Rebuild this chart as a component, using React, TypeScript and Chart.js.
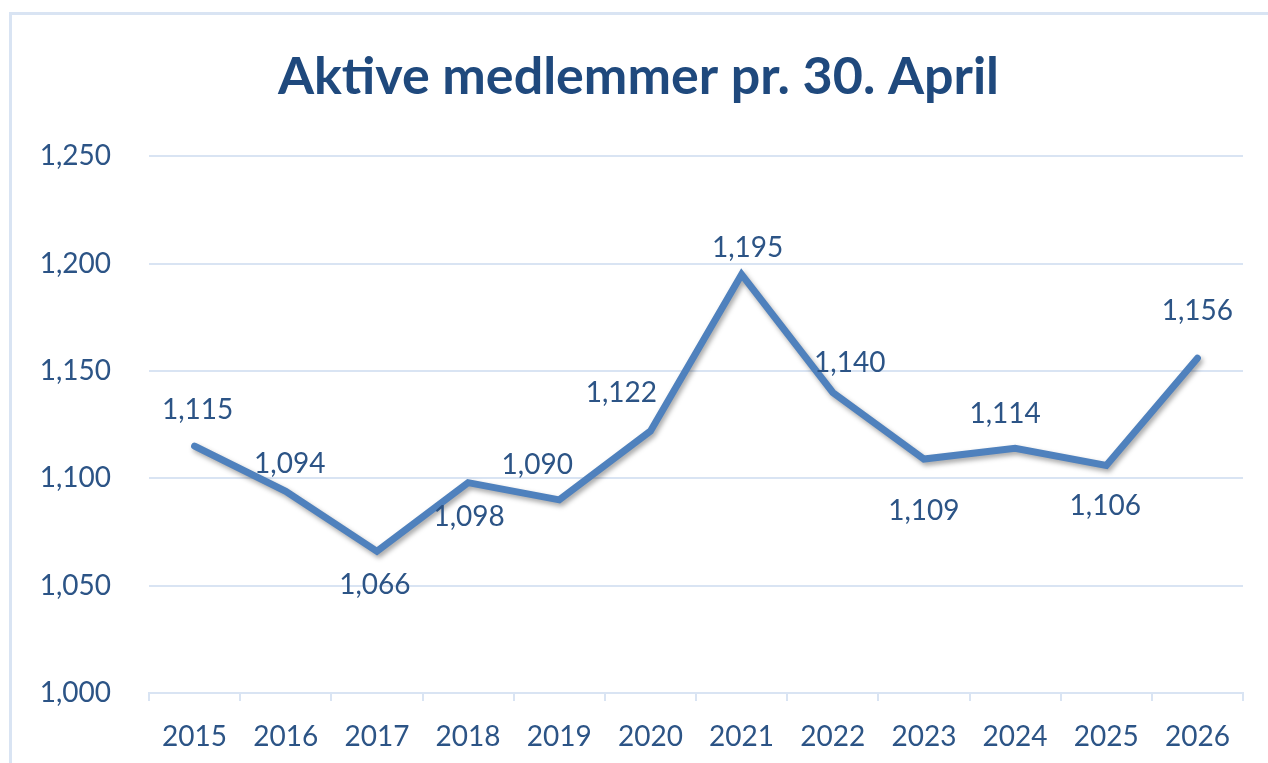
import React, { useEffect, useRef } from "react";
import { Chart, registerables } from "chart.js";

Chart.register(...registerables);

const years = ["2015", "2016", "2017", "2018", "2019", "2020", "2021", "2022", "2023", "2024", "2025", "2026"];
const members = [1115, 1094, 1066, 1098, 1090, 1122, 1195, 1140, 1109, 1114, 1106, 1156];
const yTicks = [1000, 1050, 1100, 1150, 1200, 1250];
const titleText = "Aktive medlemmer pr. 30. April";

// label offsets (px) relative to each point
const labelDx = [3, 4, -2, 1, -22, -29, 6, 17, 0, -10, -1, 0];
const labelDy = [-36, -27, 34, 34, -35, -38, -26, -30, 52, -34, 40, -47];

const FONT = "Lato, 'Open Sans', sans-serif";
const TEXT = "#2c5486";
const GRID = "#d9e4f3";

const fmt = (v: number) => v.toLocaleString("en-US");

const labelPlugin = {
  id: "pointLabels",
  afterDatasetsDraw(chart: any) {
    const ctx = chart.ctx;
    const meta = chart.getDatasetMeta(0);
    ctx.save();
    ctx.font = `28px ${FONT}`;
    ctx.fillStyle = TEXT;
    ctx.textAlign = "center";
    ctx.textBaseline = "middle";
    meta.data.forEach((el: any, i: number) => {
      ctx.fillText(fmt(members[i]), el.x + labelDx[i], el.y + labelDy[i]);
    });
    ctx.restore();
  },
};

const shadowPlugin = {
  id: "lineShadow",
  beforeDatasetDraw(chart: any) {
    const ctx = chart.ctx;
    ctx.save();
    ctx.shadowColor = "rgba(0,0,0,0.35)";
    ctx.shadowBlur = 5;
    ctx.shadowOffsetX = 2;
    ctx.shadowOffsetY = 3;
  },
  afterDatasetDraw(chart: any) {
    chart.ctx.restore();
  },
};

export default function App() {
  const ref = useRef<HTMLCanvasElement>(null);
  useEffect(() => {
    if (!ref.current) return;
    const chart = new Chart(ref.current, {
      type: "line",
      data: {
        labels: years,
        datasets: [
          {
            data: members,
            borderColor: "#4f81bd",
            borderWidth: 7,
            pointRadius: 0,
            tension: 0,
            borderCapStyle: "round",
            borderJoinStyle: "miter",
            fill: false,
          },
        ],
      },
      options: {
        animation: false,
        responsive: false,
        layout: { padding: { left: 34, right: 25, top: 0, bottom: 0 } },
        plugins: {
          legend: { display: false },
          tooltip: { enabled: false },
          title: {
            display: true,
            text: titleText,
            color: "#1f497d",
            font: { family: FONT, size: 52, weight: "bold", lineHeight: 1.2 },
            padding: { top: 46, bottom: 48 },
          },
        },
        scales: {
          x: {
            offset: true,
            grid: {
              offset: true,
              drawOnChartArea: false,
              drawTicks: true,
              tickLength: 8,
              color: GRID,
              lineWidth: 2,
            },
            border: { display: true, color: GRID, width: 2 },
            ticks: { color: TEXT, font: { family: FONT, size: 28 }, padding: 19, maxRotation: 0 },
            afterFit(scale: any) {
              scale.height = 70;
            },
          },
          y: {
            min: 1000,
            max: 1250,
            afterBuildTicks(scale: any) {
              scale.ticks = yTicks.map((v) => ({ value: v }));
            },
            grid: { color: GRID, lineWidth: 2, drawTicks: false },
            border: { display: false },
            ticks: {
              color: TEXT,
              font: { family: FONT, size: 28 },
              padding: 38,
              callback: (v: any) => fmt(Number(v)),
            },
            afterFit(scale: any) {
              scale.width = 115;
            },
          },
        },
      },
      plugins: [shadowPlugin, labelPlugin],
    });
    return () => chart.destroy();
  }, []);
  return (
    <div style={{ position: "fixed", left: 0, top: 0, width: 1268, height: 763, background: "#fff" }}>
      <div
        style={{
          position: "absolute",
          left: 9,
          top: 12,
          width: 1268,
          height: 763,
          borderLeft: `3px solid ${GRID}`,
          borderTop: `3px solid ${GRID}`,
        }}
      />
      <canvas ref={ref} width={1268} height={763} style={{ position: "absolute", left: 0, top: 0 }} />
    </div>
  );
}
